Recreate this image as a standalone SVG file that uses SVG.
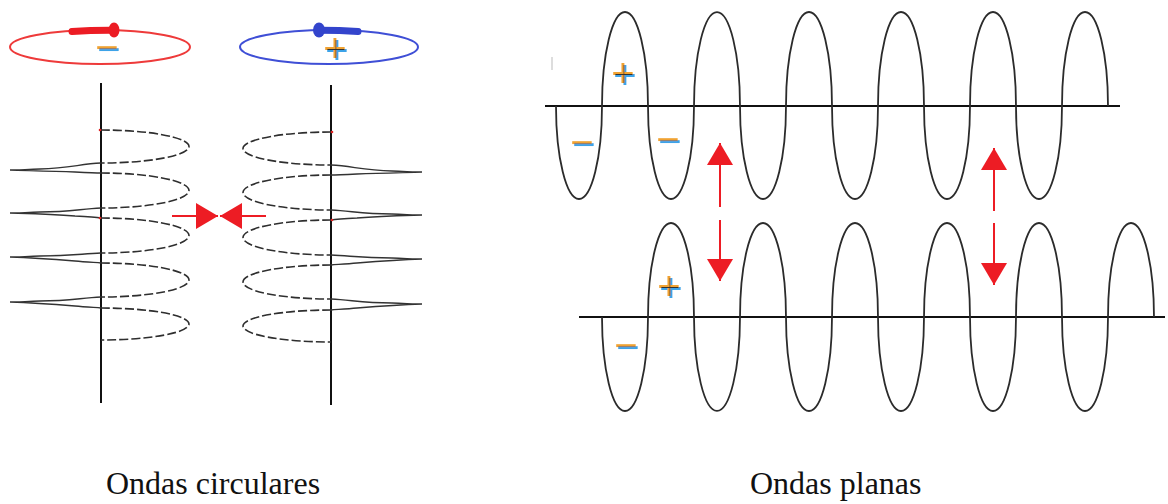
<svg xmlns="http://www.w3.org/2000/svg" xmlns:xlink="http://www.w3.org/1999/xlink" width="1168" height="504" viewBox="0 0 1168 504">
  <style>
    .axis { stroke: #111; stroke-width: 2; fill: none; }
    .wave { stroke: #2b2b2b; stroke-width: 1.8; fill: none; }
    .loop { stroke: #2e2e2e; stroke-width: 1.6; fill: none; stroke-dasharray: 9 3; }
    .tail { stroke: #333; stroke-width: 1.3; fill: none; }
    .arrow { stroke: #ed1c24; stroke-width: 2; fill: none; }
    .sign { font-family: "Liberation Sans", Arial, sans-serif; font-size: 40px; text-anchor: middle; filter: url(#chroma); }
    .label { font-family: "Liberation Serif", "Times New Roman", serif; font-size: 32px; fill: #111; }
  </style>
  <defs>
    <!-- red triangular head used by every arrow -->
    <marker id="head" viewBox="0 0 22 26" refX="22" refY="13" markerWidth="22" markerHeight="26" markerUnits="userSpaceOnUse" orient="auto">
      <path d="M0,0 L22,13 L0,26 z" fill="#ed1c24"/>
    </marker>
    <!-- orange / blue colour fringe around the charge signs -->
    <filter id="chroma" x="-30%" y="-30%" width="160%" height="160%">
      <feOffset in="SourceAlpha" dx="-1.3" dy="-1.1" result="a"/>
      <feFlood flood-color="#f0a232"/>
      <feComposite in2="a" operator="in" result="orange"/>
      <feOffset in="SourceAlpha" dx="1.3" dy="1.1" result="b"/>
      <feFlood flood-color="#3ea3e8"/>
      <feComposite in2="b" operator="in" result="blue"/>
      <feMorphology in="SourceGraphic" operator="erode" radius="0.6" result="core"/>
      <feMerge>
        <feMergeNode in="blue"/>
        <feMergeNode in="orange"/>
        <feMergeNode in="core"/>
      </feMerge>
    </filter>
    <!-- coiled field lines around an antenna -->
    <g id="coil">
      <path class="loop" d="M101,130 A88,16.5 0 0 1 101,163 M101,173 A88,17.5 0 0 1 101,208 M101,218 A88,17.5 0 0 1 101,253 M101,263 A88,17 0 0 1 101,297 M101,308 A88,16 0 0 1 101,340"/>
      <path class="tail" d="M101,163 C80,164 70,168 40,169 C25,169.5 15,170 10,170 C25,170.5 50,171 75,172 C85,172.5 95,173 101,173
                             M101,208 C80,209 70,212 40,212 C25,212.5 15,213 10,213 C25,213.5 50,214 75,216 C85,216.5 95,217 101,218
                             M101,253 C80,254 70,256 40,256 C25,256.5 15,257 10,257 C25,257.5 50,259 75,261 C85,262 95,262.5 101,263
                             M101,297 C80,298 70,301 40,301 C25,301.5 15,302 10,302 C25,302.5 50,304 75,306 C85,307 95,307.5 101,308"/>
      <circle cx="100" cy="130" r="1.3" fill="#d22"/>
      <circle cx="100" cy="218" r="1.3" fill="#d22"/>
    </g>
  </defs>

  <rect width="1168" height="504" fill="#fff"/>

  <!-- left antenna, negative charge -->
  <g id="antena-negativa">
    <ellipse cx="100" cy="47" rx="90" ry="17" fill="none" stroke="#ee3a3a" stroke-width="2"/>
    <path d="M72,31.5 Q90,30.2 110,30.2" stroke="#ec1c24" stroke-width="7" fill="none" stroke-linecap="round"/>
    <ellipse cx="114" cy="30" rx="5.5" ry="7.5" fill="#ec1c24"/>
    <text class="sign" x="108" y="62" fill="#777">−</text>
    <line class="axis" x1="101" y1="83" x2="101" y2="403"/>
    <use xlink:href="#coil"/>
  </g>

  <!-- right antenna, positive charge -->
  <g id="antena-positiva">
    <ellipse cx="329" cy="47" rx="89" ry="17" fill="none" stroke="#3f4fd6" stroke-width="2"/>
    <path d="M320,30.2 Q340,30.2 358,31.5" stroke="#3344cc" stroke-width="7" fill="none" stroke-linecap="round"/>
    <ellipse cx="319" cy="30" rx="6" ry="7.5" fill="#3344cc"/>
    <text class="sign" x="336" y="63" fill="#333">+</text>
    <line class="axis" x1="331" y1="85" x2="331" y2="405"/>
    <use xlink:href="#coil" transform="translate(432,2) scale(-1,1)"/>
  </g>

  <!-- upper plane wave -->
  <g id="onda-plana-superior">
    <line x1="552" y1="57" x2="552" y2="70" stroke="#bbb" stroke-width="1"/>
    <line class="axis" x1="545" y1="106" x2="1120" y2="106"/>
    <path class="wave" d="M556,106 A23,93 0 0 0 602,106 A23,94 0 0 1 648,106 A23,93 0 0 0 694,106 A23,94 0 0 1 740,106
                          A23,93 0 0 0 786,106 A23,94 0 0 1 832,106 A23,93 0 0 0 878,106 A23,94 0 0 1 924,106
                          A23,93 0 0 0 970,106 A23,94 0 0 1 1016,106 A23,93 0 0 0 1062,106 A23,94 0 0 1 1108,106"/>
    <text class="sign" x="624" y="88" fill="#333">+</text>
    <text class="sign" x="583" y="157" fill="#777">−</text>
    <text class="sign" x="669" y="154" fill="#777">−</text>
  </g>

  <!-- lower plane wave -->
  <g id="onda-plana-inferior">
    <line class="axis" x1="579" y1="317" x2="1165" y2="317"/>
    <path class="wave" d="M602,317 A23,94 0 0 0 648,317 A23,94 0 0 1 694,317 A23,94 0 0 0 740,317 A23,94 0 0 1 786,317
                          A23,94 0 0 0 832,317 A23,94 0 0 1 878,317 A23,94 0 0 0 924,317 A23,94 0 0 1 970,317
                          A23,94 0 0 0 1016,317 A23,94 0 0 1 1062,317 A23,94 0 0 0 1108,317 A23,94 0 0 1 1154,317"/>
    <text class="sign" x="670" y="301" fill="#333">+</text>
    <text class="sign" x="627" y="360" fill="#777">−</text>
  </g>

  <!-- red arrows -->
  <g id="flechas">
    <line class="arrow" x1="172" y1="216" x2="218" y2="216" marker-end="url(#head)"/>
    <line class="arrow" x1="266" y1="216" x2="220" y2="216" marker-end="url(#head)"/>
    <line class="arrow" x1="720" y1="207" x2="720" y2="143" marker-end="url(#head)"/>
    <line class="arrow" x1="720" y1="220" x2="720" y2="281" marker-end="url(#head)"/>
    <line class="arrow" x1="994" y1="211" x2="994" y2="148" marker-end="url(#head)"/>
    <line class="arrow" x1="994" y1="223" x2="994" y2="285" marker-end="url(#head)"/>
  </g>

  <!-- captions -->
  <g id="titulos">
    <text class="label" x="106" y="494">Ondas circulares</text>
    <text class="label" x="750" y="494">Ondas planas</text>
  </g>
</svg>
